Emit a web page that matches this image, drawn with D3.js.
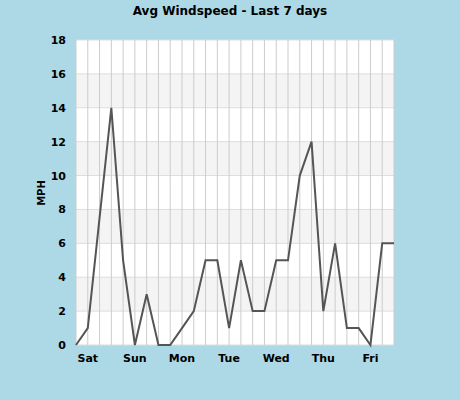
<!DOCTYPE html>
<html><head><meta charset="utf-8">
<script src="https://cdn.jsdelivr.net/npm/d3@7"></script>
<style>body{margin:0;background:#add8e6}text{font-family:"DejaVu Sans",sans-serif}</style>
</head><body>
<svg id="c" width="460" height="400"></svg>
<script>
const speeds=[0,1,7.5,14,5,0,3,0,0,1,2,5,5,1,5,2,2,5,5,10,12,2,6,1,1,0,6,6];
const dayLabels=['Sat','Sun','Mon','Tue','Wed','Thu','Fri'];
const yTicks=[0,2,4,6,8,10,12,14,16,18];

const svg=d3.select('#c');
const m={left:76,right:394,top:40,bottom:345};
const x=d3.scaleLinear().domain([0,speeds.length-1]).range([m.left,m.right]);
const y=d3.scaleLinear().domain([0,18]).range([m.bottom,m.top]);

svg.append('rect').attr('width',460).attr('height',400).attr('fill','#add8e6');
svg.append('rect').attr('x',m.left).attr('y',m.top).attr('width',m.right-m.left).attr('height',m.bottom-m.top).attr('fill','#fff');

// bandes
svg.selectAll('rect.band').data(yTicks.filter(d=>d%4==2&&d<18)).join('rect')
  .attr('x',m.left).attr('width',m.right-m.left)
  .attr('y',d=>y(d+2)).attr('height',d=>y(d)-y(d+2)).attr('fill','#f4f4f4');

svg.selectAll('line.hg').data(yTicks).join('line')
  .attr('x1',m.left).attr('x2',m.right).attr('y1',d=>y(d)).attr('y2',d=>y(d))
  .attr('stroke','#ddd');
svg.selectAll('line.vg').data(d3.range(speeds.length)).join('line')
  .attr('y1',m.top).attr('y2',m.bottom).attr('x1',d=>x(d)).attr('x2',d=>x(d))
  .attr('stroke','#ccc');

svg.selectAll('text.yl').data(yTicks).join('text')
  .attr('x',66).attr('y',d=>y(d)+4).attr('text-anchor','end')
  .attr('font-size',11).attr('font-weight','bold').text(d=>d);
svg.selectAll('text.xl').data(dayLabels).join('text')
  .attr('x',(d,i)=>x(1+4*i)).attr('y',362).attr('text-anchor','middle')
  .attr('font-size',11).attr('font-weight','bold').text(d=>d);

svg.append('path').datum(speeds)
  .attr('d',d3.line().x((d,i)=>x(i)).y(d=>y(d)))
  .attr('fill','none').attr('stroke','#555').attr('stroke-width',2);

svg.append('text').attr('x',230).attr('y',15).attr('text-anchor','middle')
  .attr('font-size',12).attr('font-weight','bold').text('Avg Windspeed - Last 7 days');
svg.append('text').attr('transform','translate(45,193) rotate(-90)').attr('text-anchor','middle')
  .attr('font-size',10).attr('font-weight','bold').text('MPH');
</script>
</body></html>
